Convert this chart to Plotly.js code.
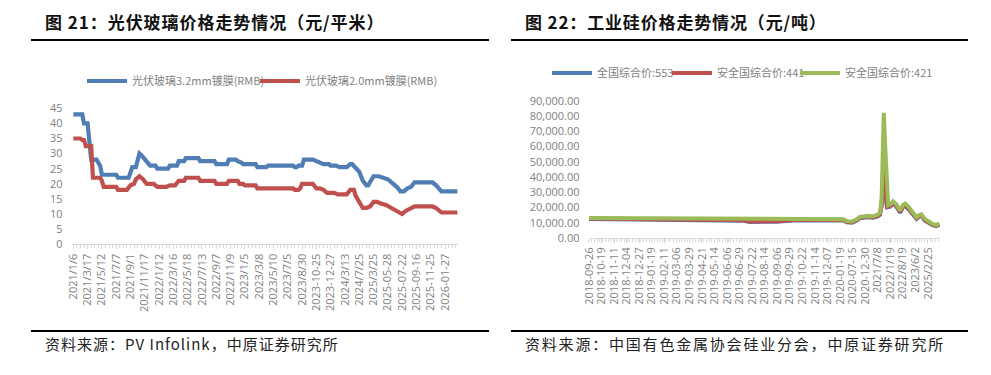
<!DOCTYPE html>
<html>
<head>
<meta charset="utf-8">
<script src="https://cdn.plot.ly/plotly-3.0.1.min.js"></script>
<style>
  html, body { margin: 0; padding: 0; background: #ffffff; }
  #chart { width: 991px; height: 375px; }
</style>
</head>
<body>
<div id="chart"></div>
<script>
// ---------- Figure 21: PV glass price (yuan / m2) ----------
const glassTickLabels = ['2021/1/6','2021/3/17','2021/5/12','2021/7/7','2021/9/1','2021/11/17','2022/1/12',
  '2022/3/16','2022/5/18','2022/7/13','2022/9/7','2022/11/9','2023/1/5','2023/3/8','2023/5/10','2023/7/5',
  '2023/8/30','2023-10-25','2023-12-27','2024/3/13','2024/7/25','2025/3/25','2025-05-28','2025-07-22',
  '2025-09-16','2025-11-25','2026-01-27'];
const glassTickStep = 8; // observations between labelled ticks

// category index / price, 3.2mm coated glass
const glass32Idx = [0,5,6,8,10,13,15,16,24,25,31,33,35,37,38,40,41,43,46,47,53,54,58,59,62,63,70,71,79,80,86,87,91,92,94,95,
  102,103,108,109,123,124,125,126,128,129,134,136,138,140,143,144,147,149,153,155,156,158,160,162,164,165,168,171,174,176,
  179,181,183,185,187,189,191,201,203,206,215];
const glass32Val = [43,43,40,40,28,28,26,23,23,22,22,25.5,25.5,30,29.5,28,27.5,26,26,25,25,26,26,27.5,27.5,28.5,28.5,27.5,27.5,26.5,26.5,28,
  28,27.5,27,26.5,26.5,25.5,25.5,26,26,25.5,25.5,26,26,28,28,27.5,27,26.5,26.5,26,26,25.5,25.5,26.5,26.5,25,24,21,19.5,19.5,22.5,22.5,22,21.5,
  20,19,17.5,17.5,18.5,19,20.5,20.5,19.5,17.5,17.5];

// category index / price, 2.0mm coated glass
const glass20Idx = [0,4,5,6,7,10,11,15,16,17,24,25,30,32,34,35,37,39,41,45,47,52,54,57,59,62,63,70,71,79,80,86,87,92,93,95,96,
  102,103,123,124,126,127,128,134,136,138,140,142,146,148,153,155,157,158,160,162,164,166,168,170,172,175,178,181,183,184,186,
  188,191,201,203,206,215];
const glass20Val = [35,35,34.5,34.5,32.5,32.5,22,22,21,19,19,18,18,19.5,20,21.5,22.5,21.5,20,20,19,19,19.5,19.5,21,21,22,22,21,21,20,20,21,21,20,20,
  19.5,19.5,18.5,18.5,18,18,18.5,20,20,18.5,18.5,18,17,17,16.5,16.5,18,18,16,14,12,12,12.5,14,14,13.5,13,12,11,10,10,11,11.5,12.5,12.5,12,10.5,10.5];

// ---------- Figure 22: industrial silicon price (yuan / t) ----------
const siTickLabels = ['2018-09-26','2018-10-19','2018-11-11','2018-12-04','2018-12-27','2019-01-19','2019-02-11',
  '2019-03-06','2019-03-29','2019-04-21','2019-05-14','2019-06-06','2019-06-29','2019-07-22','2019-08-14','2019-09-06',
  '2019-09-29','2019-10-22','2019-11-14','2019-12-07','2020-01-19','2020-07-15','2020-12-30','2021/7/8','2022/1/19',
  '2022/8/19','2023/6/2','2025/2/25'];
const siTickStep = 23;

const si553Idx = [0,60,100,283,295,344,374,466,472,482,490,496,510,520,528,533,536,539,541,543,546,552,557,563,570,575,579,585,592,600,605,609,615,621,630,636,642];
const si553Val = [12400,12200,11500,11300,10500,10600,11400,11600,10300,10000,11200,12900,13500,13200,14000,15200,21000,40000,58000,28000,20000,20500,22500,20500,16500,20000,21000,19000,15500,12400,13900,14400,11400,10000,8200,7800,8500];

const si441Idx = [0,60,100,283,295,344,374,466,472,482,490,496,510,520,528,533,536,539,541,543,546,552,557,563,570,575,579,585,592,600,605,609,615,621,630,636,642];
const si441Val = [12700,12500,11800,11600,10800,10900,11700,11900,10600,10300,11500,13200,13800,13500,14300,15500,22000,45000,62000,30000,20500,21000,23000,21000,17000,20500,21500,19500,16000,12800,14300,14800,11800,10300,8500,8000,8800];

const si421Idx = [0,160,283,300,374,466,472,482,490,496,510,520,528,533,536,538,540,542,545,548,552,557,563,570,575,579,585,592,600,605,609,615,621,630,636,642];
const si421Val = [13000,12900,12700,12200,12200,12300,11000,10800,12000,13800,14400,14200,15000,16500,25000,50000,82000,65000,35000,21500,22000,24000,22000,18000,21500,22500,20500,17000,13500,15000,15500,12500,11000,9000,8500,9300];

// ---------- helpers ----------
const W = 991, H = 375;
const px = v => v / W;
const py = v => 1 - v / H;
const tickPositions = (labels, step) => labels.map((_, i) => i * step);

const BLUE = '#4f7db4', RED = '#c0504d', GREEN = '#9bbb59';
const AXIS_GREY = '#d9d9d9', TXT_GREY = '#7f7f7f';
const tickFont = { family: 'Open Sans, Lato, sans-serif', size: 11, color: TXT_GREY };
const cjkLegendFont = { family: 'Noto Sans CJK SC, Open Sans, sans-serif', size: 11, color: TXT_GREY };

const traces = [
  { x: glass32Idx, y: glass32Val, name: '光伏玻璃3.2mm镀膜(RMB)', type: 'scatter', mode: 'lines',
    line: { color: BLUE, width: 4.2 }, xaxis: 'x', yaxis: 'y', legend: 'legend' },
  { x: glass20Idx, y: glass20Val, name: '光伏玻璃2.0mm镀膜(RMB)', type: 'scatter', mode: 'lines',
    line: { color: RED, width: 4.2 }, xaxis: 'x', yaxis: 'y', legend: 'legend2' },
  { x: si553Idx, y: si553Val, name: '全国综合价:553', type: 'scatter', mode: 'lines',
    line: { color: BLUE, width: 4 }, xaxis: 'x2', yaxis: 'y2', legend: 'legend3' },
  { x: si441Idx, y: si441Val, name: '安全国综合价:441', type: 'scatter', mode: 'lines',
    line: { color: RED, width: 4 }, xaxis: 'x2', yaxis: 'y2', legend: 'legend4' },
  { x: si421Idx, y: si421Val, name: '安全国综合价:421', type: 'scatter', mode: 'lines',
    line: { color: GREEN, width: 4 }, xaxis: 'x2', yaxis: 'y2', legend: 'legend5' }
];

const xCommon = {
  tickmode: 'array', tickangle: -90, tickfont: tickFont,
  showgrid: false, zeroline: false, showline: true, linecolor: AXIS_GREY, linewidth: 1,
  ticks: 'outside', ticklen: 4, tickcolor: AXIS_GREY,
  minor: { ticks: 'outside', ticklen: 3, tickcolor: AXIS_GREY, showgrid: false }
};

// one legend box per entry so each sample sits where it does in the original
const legendAt = (lineStartX, centerY) => ({
  orientation: 'h', x: px(lineStartX - 5), y: py(centerY), xanchor: 'left', yanchor: 'middle',
  font: cjkLegendFont, itemwidth: 40, bgcolor: 'rgba(0,0,0,0)'
});

const layout = {
  width: W, height: H,
  margin: { l: 0, r: 0, t: 0, b: 0 },
  paper_bgcolor: '#ffffff', plot_bgcolor: '#ffffff',
  showlegend: true,
  xaxis: Object.assign({}, xCommon, {
    domain: [px(71.7), px(457.7)], range: [-0.9, 215.1],
    tickvals: tickPositions(glassTickLabels, glassTickStep), ticktext: glassTickLabels,
    minor: Object.assign({}, xCommon.minor, { tickmode: 'linear', tick0: 0, dtick: 2 }),
    anchor: 'y'
  }),
  yaxis: {
    domain: [py(244.2), py(108.3)], range: [0, 45], dtick: 5, tick0: 0,
    tickfont: tickFont, showgrid: false, zeroline: false, showline: false,
    ticks: 'outside', ticklen: 6, tickcolor: 'rgba(0,0,0,0)', anchor: 'x'
  },
  xaxis2: Object.assign({}, xCommon, {
    domain: [px(588.7), px(940)], range: [-0.5, 643],
    tickvals: tickPositions(siTickLabels, siTickStep), ticktext: siTickLabels,
    minor: Object.assign({}, xCommon.minor, { tickmode: 'linear', tick0: 0, dtick: 5 }),
    anchor: 'y2'
  }),
  yaxis2: {
    domain: [py(237.9), py(100.7)], range: [0, 90000], dtick: 10000, tick0: 0, tickformat: ',.2f',
    tickfont: tickFont, showgrid: false, zeroline: false, showline: false,
    ticks: 'outside', ticklen: 6, tickcolor: 'rgba(0,0,0,0)', anchor: 'x2'
  },
  legend: legendAt(87, 81),
  legend2: legendAt(260, 81),
  legend3: legendAt(552, 73),
  legend4: legendAt(672, 73),
  legend5: legendAt(800, 73),
  shapes: [
    { type: 'line', xref: 'paper', yref: 'paper', x0: px(31), x1: px(489), y0: py(40), y1: py(40), line: { color: '#000', width: 2 } },
    { type: 'line', xref: 'paper', yref: 'paper', x0: px(511), x1: px(968), y0: py(40), y1: py(40), line: { color: '#000', width: 2 } },
    { type: 'line', xref: 'paper', yref: 'paper', x0: px(31), x1: px(489), y0: py(331), y1: py(331), line: { color: '#000', width: 2 } },
    { type: 'line', xref: 'paper', yref: 'paper', x0: px(511), x1: px(968), y0: py(331), y1: py(331), line: { color: '#000', width: 2 } }
  ],
  annotations: [
    { text: '<b>图 21：光伏玻璃价格走势情况（元/平米）</b>', xref: 'paper', yref: 'paper', x: px(43), y: py(22),
      xanchor: 'left', yanchor: 'middle', showarrow: false,
      font: { family: 'Noto Sans CJK SC, sans-serif', size: 17, color: '#111' } },
    { text: '<b>图 22：工业硅价格走势情况（元/吨）</b>', xref: 'paper', yref: 'paper', x: px(523), y: py(22),
      xanchor: 'left', yanchor: 'middle', showarrow: false,
      font: { family: 'Noto Sans CJK SC, sans-serif', size: 17, color: '#111' } },
    { text: '资料来源：PV Infolink，中原证券研究所', xref: 'paper', yref: 'paper', x: px(43), y: py(343),
      xanchor: 'left', yanchor: 'middle', showarrow: false,
      font: { family: 'Noto Sans CJK SC, sans-serif', size: 15, color: '#222' } },
    { text: '资料来源：中国有色金属协会硅业分会，中原证券研究所', xref: 'paper', yref: 'paper', x: px(523), y: py(343),
      xanchor: 'left', yanchor: 'middle', showarrow: false,
      font: { family: 'Noto Sans CJK SC, sans-serif', size: 15, color: '#222' } }
  ]
};

// extra letter spacing on the heading / source lines, keeping their left edge fixed
const spacing = { 0: '0.95px', 1: '0.85px', 2: '1.0px', 3: '1.8px' };
Plotly.newPlot('chart', traces, layout, { displayModeBar: false, staticPlot: true }).then(gd => {
  gd.querySelectorAll('.annotation').forEach(a => {
    const idx = a.getAttribute('data-index');
    const t = a.querySelector('text');
    if (!t || !spacing[idx]) return;
    const before = t.getBBox().x;
    t.style.letterSpacing = spacing[idx];
    const after = t.getBBox().x;
    const prev = t.getAttribute('transform') || '';
    t.setAttribute('transform', prev + ' translate(' + (before - after) + ',0)');
  });
});
</script>
</body>
</html>
